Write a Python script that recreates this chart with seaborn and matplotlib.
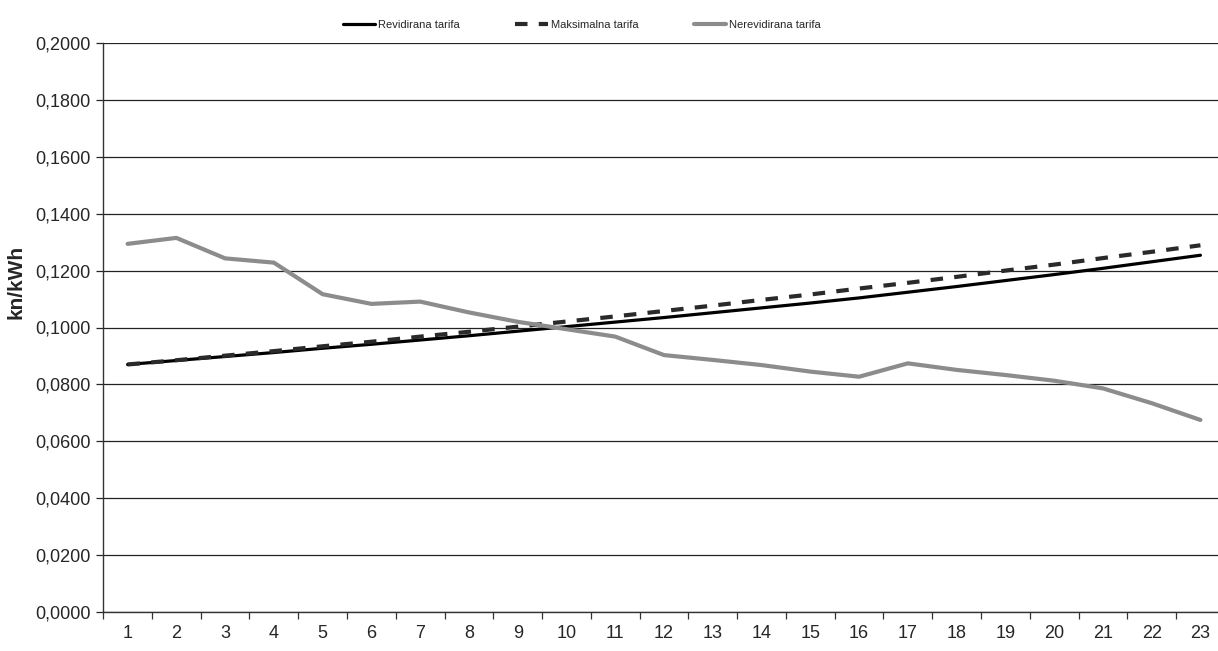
import numpy as np
import pandas as pd
import seaborn as sns
import matplotlib.pyplot as plt
from matplotlib.ticker import FuncFormatter, MultipleLocator

# ---------------- data ----------------
periods = list(range(1, 24))
revidirana = [0.0870, 0.0884, 0.0898, 0.0912, 0.0927, 0.0941, 0.0956, 0.0971,
              0.0987, 0.1003, 0.1019, 0.1035, 0.1052, 0.1069, 0.1086, 0.1104,
              0.1124, 0.1144, 0.1165, 0.1186, 0.1208, 0.1231, 0.1254]
maksimalna = [0.0870, 0.0885, 0.0901, 0.0917, 0.0934, 0.0950, 0.0968, 0.0985,
              0.1003, 0.1021, 0.1039, 0.1058, 0.1077, 0.1097, 0.1116, 0.1137,
              0.1157, 0.1178, 0.1200, 0.1221, 0.1244, 0.1266, 0.1289]
nerevidirana = [0.1294, 0.1315, 0.1243, 0.1228, 0.1117, 0.1083, 0.1091, 0.1053,
                0.1020, 0.0994, 0.0968, 0.0903, 0.0886, 0.0868, 0.0845, 0.0827,
                0.0874, 0.0851, 0.0833, 0.0813, 0.0786, 0.0734, 0.0675]
series_names = ['Revidirana tarifa', 'Maksimalna tarifa', 'Nerevidirana tarifa']
y_label = 'kn/kWh'

df = pd.DataFrame({'period': periods * 3,
                   'value': revidirana + maksimalna + nerevidirana,
                   'series': [series_names[0]] * 23 + [series_names[1]] * 23 + [series_names[2]] * 23})

sns.set_style('ticks')
plt.rcParams['font.family'] = ['Liberation Sans Narrow', 'Liberation Sans', 'DejaVu Sans']

fig = plt.figure(figsize=(12.18, 6.51), dpi=100)
ax = fig.add_axes([103.2 / 1218, 39 / 651, (1218 - 103.2) / 1218, 569 / 651])

# horizontal gridlines
ax.set_axisbelow(True)
ax.yaxis.grid(True, color='#222222', linewidth=0.9)

sns.lineplot(data=df[df.series == series_names[0]], x='period', y='value', ax=ax,
             color='black', linewidth=2.3, label=series_names[0])
sns.lineplot(data=df[df.series == series_names[1]], x='period', y='value', ax=ax,
             color='#2a2a2a', linewidth=3.0, dashes=False, label=series_names[1])
ax.lines[-1].set_dashes((3, 2.7))
sns.lineplot(data=df[df.series == series_names[2]], x='period', y='value', ax=ax,
             color='#8c8c8c', linewidth=3.0, label=series_names[2])

ax.set_xlim(0.5, 23.36)
ax.set_ylim(0, 0.2)
ax.yaxis.set_major_locator(MultipleLocator(0.02))
ax.yaxis.set_major_formatter(FuncFormatter(lambda v, p: f'{v:.4f}'.replace('.', ',')))
ax.set_xticks(periods)
ax.set_xticks(np.arange(0.5, 23.5, 1.0), minor=True)
ax.tick_params(axis='x', which='major', length=0, pad=9, labelsize=13)
ax.tick_params(axis='x', which='minor', length=5, width=0.9, color='#333333')
ax.tick_params(axis='y', length=5, width=0.9, pad=4, labelsize=13)

ax.set_xlabel('')
ax.set_ylabel(y_label, fontsize=15, fontweight='bold')
ax.yaxis.set_label_coords(-0.070, 0.58)

for side in ['top', 'right']:
    ax.spines[side].set_visible(False)
for side in ['left', 'bottom']:
    ax.spines[side].set_color('#333333')
    ax.spines[side].set_linewidth(1.0)

ax.legend(loc='upper left', bbox_to_anchor=(0.206, 1.058), ncol=3, frameon=False,
          fontsize=8, handlelength=2.9, handletextpad=0.27, columnspacing=5.0)

fig.savefig('out.png', dpi=100)
